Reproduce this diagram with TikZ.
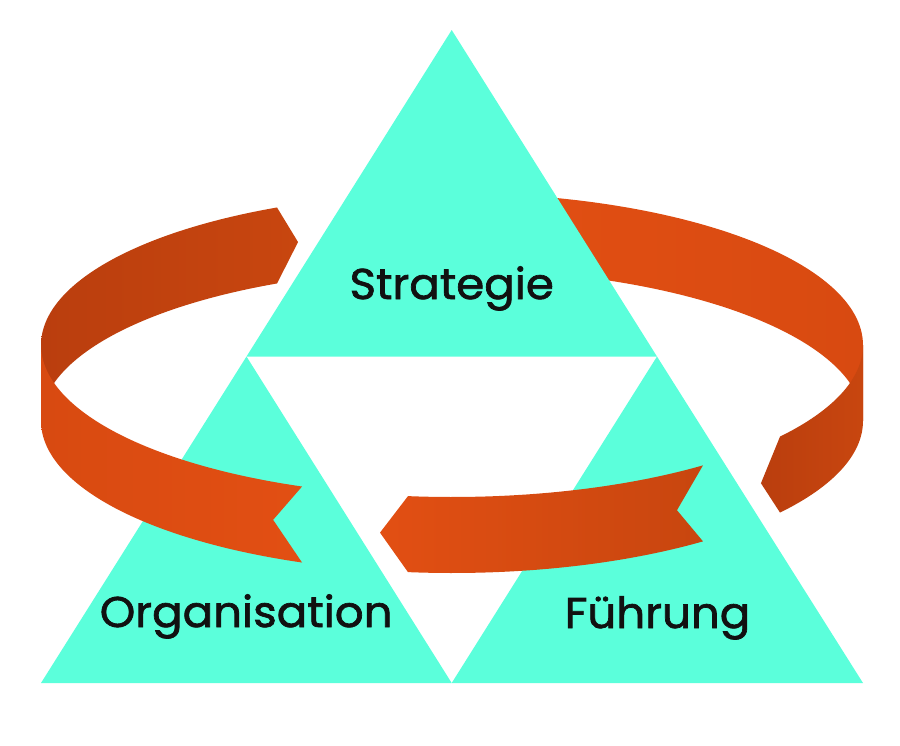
\documentclass[tikz,border=0pt]{standalone}
\usepackage{fontspec}
\setmainfont{Poppins}
\newfontfamily\lblfont{Poppins}[FakeBold=1.6, FakeStretch=1.05]
\definecolor{tri}{HTML}{5BFFDB}
\definecolor{orA}{HTML}{E24F13}
\definecolor{orB}{HTML}{D84A11}
\definecolor{drA}{HTML}{BA3E0E}
\definecolor{drB}{HTML}{C8460F}
\definecolor{txt}{HTML}{111111}
\tikzset{
  tribox/.style={fill=tri, draw=none},
  lbl/.style={anchor=base, text=txt, font=\lblfont\fontsize{43}{48}\selectfont, inner sep=0pt},
}
\begin{document}
\begin{tikzpicture}[x=1pt,y=-1pt]
\useasboundingbox (0,0) rectangle (900,745);
% right piece, back (inner) face
\path[left color=orA, right color=orB]
  plot[domain=275:360, samples=60] ({452+411*cos(\x)},{345+152*sin(\x)})
  -- plot[domain=360:275, samples=60] ({452+411*cos(\x)},{421+152*sin(\x)})
  -- cycle;
% left piece, back (inner) face
\path[left color=drA, right color=drB]
  plot[domain=180:244.8, samples=60] ({452+411*cos(\x)},{345+152*sin(\x)})
  -- ({452+411*cos(248)},{383+152*sin(248)})
  -- plot[domain=244.8:180, samples=60] ({452+411*cos(\x)},{421+152*sin(\x)})
  -- cycle;
% triangles
\path[tribox] (451.7,30) -- (657,356.5) -- (246.5,356.5) -- cycle;
\path[tribox] (246.5,356.5) -- (451.7,683) -- (41,683) -- cycle;
\path[tribox] (657,356.5) -- (863,683) -- (451.7,683) -- cycle;
% left piece, front (outer) face
\path[left color=orB, right color=orA]
  plot[domain=111.4:180, samples=60] ({452+411*cos(\x)},{345+152*sin(\x)})
  -- plot[domain=180:111.4, samples=60] ({452+411*cos(\x)},{421+152*sin(\x)})
  -- ({452+411*cos(115.8)},{383+152*sin(115.8)})
  -- cycle;
% middle front piece
\path[left color=orA, right color=drB]
  plot[domain=52.36:96.15, samples=60] ({452+411*cos(\x)},{345+152*sin(\x)})
  -- ({452+411*cos(100.09)},{383+152*sin(100.09)})
  -- plot[domain=96.15:52.36, samples=60] ({452+411*cos(\x)},{421+152*sin(\x)})
  -- ({452+411*cos(56.81)},{383+152*sin(56.81)})
  -- cycle;
% right piece, front (outer) face
\path[left color=drA, right color=drB]
  plot[domain=0:37.05, samples=60] ({452+411*cos(\x)},{345+152*sin(\x)})
  -- ({452+411*cos(41.26)},{383+152*sin(41.26)})
  -- plot[domain=37.05:0, samples=60] ({452+411*cos(\x)},{421+152*sin(\x)})
  -- cycle;
% labels
\node[lbl] (s) at (451.7,299) {Strategie};
\node[lbl] (o) at (246.2,627) {Organisation};
\node[lbl] (f) at (657.5,628) {Führung};
\end{tikzpicture}
\end{document}
